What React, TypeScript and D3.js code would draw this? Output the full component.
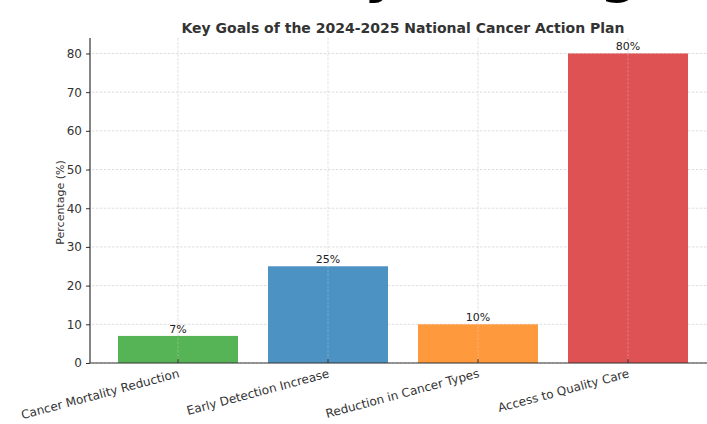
import { useEffect, useRef } from "react"
import * as d3 from "d3"

const categories = [
  "Cancer Mortality Reduction",
  "Early Detection Increase",
  "Reduction in Cancer Types",
  "Access to Quality Care",
]
const values = [7, 25, 10, 80]
const colors = ["#56b356", "#4c92c3", "#ff993e", "#de5253"]
const yTicks = [0, 10, 20, 30, 40, 50, 60, 70, 80]

const W = 707
const H = 424

export default function App() {
  const ref = useRef<SVGSVGElement>(null)

  useEffect(() => {
    const svg = d3.select(ref.current)
    svg.selectAll("*").remove()

    const left = 88, right = 718, top = 38, bottom = 363
    const font = "DejaVu Sans, sans-serif"

    // cropped heading from above the chart, only descenders show
    svg.append("text").attr("x", 364).attr("y", -8)
      .attr("font-family", font).attr("font-weight", "bold").attr("font-size", 54)
      .attr("fill", "#000").text("y")
    svg.append("text").attr("x", 600).attr("y", -8)
      .attr("font-family", font).attr("font-weight", "bold").attr("font-size", 54)
      .attr("fill", "#000").text("g")

    const x = d3.scaleBand<string>().domain(categories)
      .range([left, right]).paddingInner(0.2).paddingOuter(0.2)
    const y = d3.scaleLinear().domain([0, 84]).range([bottom, top])

    const g = svg.append("g")

    // grid
    g.selectAll(".hg").data(yTicks).join("line")
      .attr("x1", left).attr("x2", right)
      .attr("y1", d => y(d)).attr("y2", d => y(d))
      .attr("stroke", "#d0d0d0").attr("stroke-width", 0.7).attr("stroke-dasharray", "2.5,1.5")
    g.selectAll(".vg").data(categories).join("line")
      .attr("x1", d => x(d)! + x.bandwidth() / 2).attr("x2", d => x(d)! + x.bandwidth() / 2)
      .attr("y1", top).attr("y2", bottom)
      .attr("stroke", "#d0d0d0").attr("stroke-width", 0.7).attr("stroke-dasharray", "2.5,1.5")

    // bars
    g.selectAll(".bar").data(values).join("rect")
      .attr("x", (_, i) => x(categories[i])!)
      .attr("width", x.bandwidth())
      .attr("y", d => y(d))
      .attr("height", d => bottom - y(d))
      .attr("fill", (_, i) => colors[i])

    // grid shows through the bars faintly
    g.selectAll(".vg2").data(categories).join("line")
      .attr("x1", d => x(d)! + x.bandwidth() / 2).attr("x2", d => x(d)! + x.bandwidth() / 2)
      .attr("y1", top).attr("y2", bottom)
      .attr("stroke", "#ffffff").attr("stroke-opacity", 0.35).attr("stroke-width", 0.7)
      .attr("stroke-dasharray", "2.5,1.5")

    // value labels
    g.selectAll(".val").data(values).join("text")
      .attr("x", (_, i) => x(categories[i])! + x.bandwidth() / 2)
      .attr("y", d => y(d) - 3)
      .attr("text-anchor", "middle")
      .attr("font-family", font).attr("font-size", 11).attr("fill", "#222")
      .text(d => `${d}%`)

    // axes
    const yAxis = g.append("g").attr("transform", `translate(${left + 2},0)`)
      .call(d3.axisLeft(y).tickValues(yTicks).tickSize(4).tickPadding(4))
    const xAxis = g.append("g").attr("transform", `translate(0,${bottom})`)
      .call(d3.axisBottom(x).tickSize(-4).tickFormat(() => ""))
    for (const a of [yAxis, xAxis]) {
      a.select(".domain").attr("stroke", "#333").attr("stroke-width", 1.2)
      a.selectAll(".tick line").attr("stroke", "#333")
      a.selectAll(".tick text").attr("font-family", font).attr("font-size", 12).attr("fill", "#333")
    }
    yAxis.select(".domain").attr("d", `M0,${top}V${bottom}`)
    xAxis.select(".domain").attr("d", `M${left + 2},0H${right}`)

    // x labels rotated
    g.selectAll(".xl").data(categories).join("text")
      .attr("transform", d => `translate(${x(d)! + x.bandwidth() / 2 + 2},${bottom + 14}) rotate(-15)`)
      .attr("text-anchor", "end")
      .attr("font-family", font).attr("font-size", 12).attr("fill", "#333")
      .text(d => d)

    // y label
    svg.append("text")
      .attr("transform", `translate(64,${(top + bottom) / 2 + 2}) rotate(-90)`)
      .attr("text-anchor", "middle")
      .attr("font-family", font).attr("font-size", 11).attr("fill", "#333")
      .text("Percentage (%)")

    // title
    svg.append("text")
      .attr("x", (left + right) / 2).attr("y", 33)
      .attr("text-anchor", "middle")
      .attr("font-family", font).attr("font-weight", "bold").attr("font-size", 14).attr("fill", "#333")
      .text("Key Goals of the 2024-2025 National Cancer Action Plan")
  }, [])

  return (
    <svg ref={ref} width={W} height={H}
      style={{ position: "absolute", left: 0, top: 0, background: "#fff" }} />
  )
}
